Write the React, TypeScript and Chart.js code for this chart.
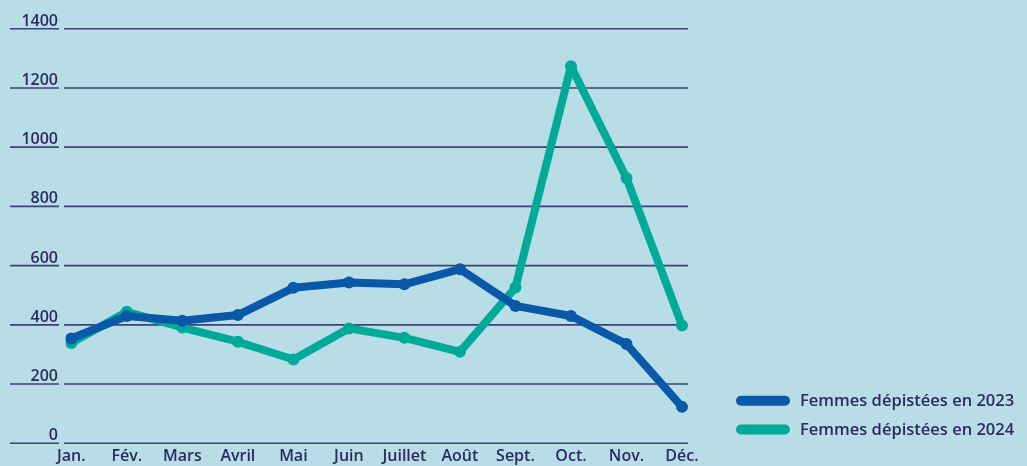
import React, { useEffect, useRef } from "react";
import { Chart, registerables } from "chart.js";

Chart.register(...registerables);

const months = ["Jan.", "Fév.", "Mars", "Avril", "Mai", "Juin", "Juillet", "Août", "Sept.", "Oct.", "Nov.", "Déc."];
const series2023 = [354, 430, 414, 433, 525, 543, 537, 588, 464, 430, 335, 123];
const series2024 = [339, 444, 391, 343, 283, 388, 356, 309, 526, 1273, 896, 398];
const yTicks = [0, 200, 400, 600, 800, 1000, 1200, 1400];
const legendLabels = ["Femmes dépistées en 2023", "Femmes dépistées en 2024"];

const BG = "#b8dde6";
const NAVY = "#2b2b5e";
const GRID = "#3f4276";
const BLUE = "#0a58a8";
const TEAL = "#00aa99";
const FONT = "'Open Sans', sans-serif";

export default function App() {
  const ref = useRef<HTMLCanvasElement | null>(null);

  useEffect(() => {
    document.body.style.margin = "0";
    document.body.style.background = BG;
    const canvas = ref.current!;
    const gridPlugin = {
      id: "customGrid",
      beforeDatasetsDraw(chart: any) {
        const ctx = chart.ctx;
        const y = chart.scales.y;
        ctx.save();
        ctx.strokeStyle = GRID;
        ctx.lineWidth = 1.6;
        ctx.fillStyle = NAVY;
        ctx.font = `600 16px ${FONT}`;
        ctx.textAlign = "right";
        ctx.textBaseline = "alphabetic";
        yTicks.forEach((v) => {
          const py = y.getPixelForValue(v);
          ctx.beginPath();
          ctx.moveTo(10, py);
          ctx.lineTo(59, py);
          ctx.moveTo(64, py);
          ctx.lineTo(688, py);
          ctx.stroke();
          ctx.fillText(String(v), 58, py - 3);
        });
        ctx.restore();
      },
      afterDraw(chart: any) {
        const ctx = chart.ctx;
        ctx.save();
        const colors = [BLUE, TEAL];
        const ys = [400.7, 429.5];
        ctx.lineCap = "round";
        ctx.lineWidth = 10;
        ctx.font = `600 16.5px ${FONT}`;
        ctx.textAlign = "left";
        ctx.textBaseline = "middle";
        legendLabels.forEach((t, i) => {
          ctx.strokeStyle = colors[i];
          ctx.beginPath();
          ctx.moveTo(741, ys[i]);
          ctx.lineTo(785, ys[i]);
          ctx.stroke();
          ctx.fillStyle = NAVY;
          ctx.fillText(t, 800, ys[i] + 0.5);
        });
        ctx.restore();
      },
    };

    const common = {
      borderWidth: 8,
      pointRadius: 6,
      pointBorderWidth: 0,
      tension: 0,
      borderJoinStyle: "round" as const,
      borderCapStyle: "round" as const,
    };

    const chart = new Chart(canvas, {
      type: "line",
      data: {
        labels: months,
        datasets: [
          {
            label: legendLabels[0],
            data: series2023,
            borderColor: BLUE,
            backgroundColor: BLUE,
            pointBackgroundColor: BLUE,
            ...common,
          },
          {
            label: legendLabels[1],
            data: series2024,
            borderColor: TEAL,
            backgroundColor: TEAL,
            pointBackgroundColor: TEAL,
            ...common,
          },
        ],
      },
      options: {
        responsive: false,
        animation: false,
        devicePixelRatio: 1,
        layout: { padding: { left: 71.3, right: 345, top: 28.7, bottom: 0 } },
        plugins: { legend: { display: false }, tooltip: { enabled: false } },
        scales: {
          x: {
            type: "category",
            offset: false,
            grid: { display: false },
            border: { display: false },
            ticks: {
              color: NAVY,
              font: { family: "'Open Sans', sans-serif", size: 16, weight: "600" },
              padding: -4,
              maxRotation: 0,
              autoSkip: false,
            },
            afterFit: (s: any) => {
              s.height = 22.7;
            },
          },
          y: {
            display: false,
            min: 0,
            max: 1400,
          },
        },
      },
      plugins: [gridPlugin],
    });
    return () => chart.destroy();
  }, []);

  return (
    <div style={{ width: 1027, height: 466, background: BG }}>
      <canvas ref={ref} width={1027} height={466} style={{ display: "block", width: 1027, height: 466 }} />
    </div>
  );
}
